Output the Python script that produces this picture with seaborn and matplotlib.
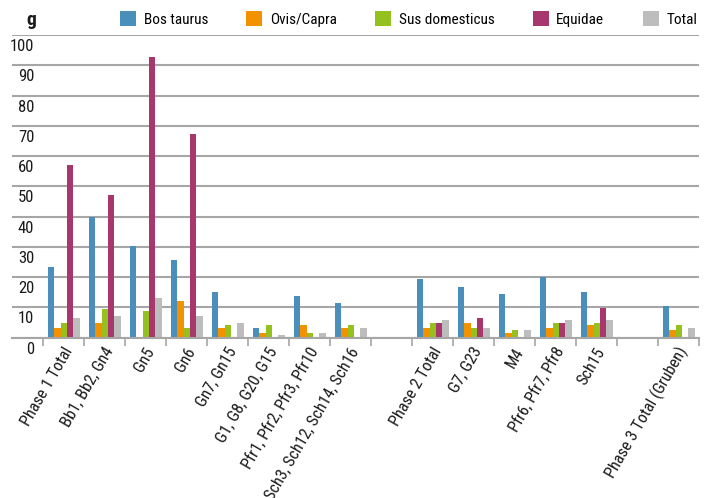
import matplotlib
matplotlib.use("Agg")
import matplotlib.pyplot as plt
import matplotlib.transforms as mtransforms
import pandas as pd
import seaborn as sns

# categories on the x axis (two empty slots separate the phases)
categories = [
    "Phase 1 Total", "Bb1, Bb2, Gn4", "Gn5", "Gn6", "Gn7, Gn15",
    "G1, G8, G20, G15", "Pfr1, Pfr2, Pfr3, Pfr10", "Sch3, Sch12, Sch14, Sch16",
    "gap_1",
    "Phase 2 Total", "G7, G23", "M4", "Pfr6, Pfr7, Pfr8", "Sch15",
    "gap_2",
    "Phase 3 Total (Gruben)",
]
groups = [c for c in categories if not c.startswith("gap_")]
species = ["Bos taurus", "Ovis/Capra", "Sus domesticus", "Equidae", "Total"]

bos = [23.2, 40.0, 30.3, 25.7, 15.2, 3.2, 13.7, 11.3, 19.3, 16.8, 14.4, 20.1, 15.2, 10.4]
ovis = [3.2, 4.8, 0.0, 12.1, 3.2, 1.6, 4.1, 3.2, 3.2, 4.8, 1.6, 3.2, 4.1, 2.5]
sus = [4.8, 9.5, 8.8, 3.2, 4.1, 4.1, 1.6, 4.1, 4.8, 3.2, 2.5, 4.8, 4.8, 4.1]
equidae = [56.9, 47.2, 92.8, 67.2, 0.0, 0.0, 0.0, 0.0, 4.8, 6.5, 0.0, 4.8, 9.7, 0.0]
total = [6.5, 7.2, 12.9, 7.2, 4.8, 0.9, 1.6, 3.2, 5.7, 3.2, 2.5, 5.7, 5.7, 3.2]

colors = ["#4a8fbb", "#f39200", "#95c11f", "#a8376e", "#bdbdbd"]

df = pd.DataFrame({"group": groups, "Bos taurus": bos, "Ovis/Capra": ovis,
                   "Sus domesticus": sus, "Equidae": equidae, "Total": total})
df_long = df.melt(id_vars="group", var_name="species", value_name="g")

plt.rcParams["font.family"] = ["Roboto Condensed", "Roboto", "DejaVu Sans"]

fig = plt.figure(figsize=(7.12, 4.98), dpi=100)
ax = fig.add_axes([12 / 712, 160.5 / 498, 687.3 / 712, 302.5 / 498])

sns.barplot(data=df_long, x="group", y="g", hue="species", order=categories,
            hue_order=species, palette=colors, width=0.77, saturation=1,
            edgecolor="none", errorbar=None, ax=ax)

ax.set_ylim(0, 100)
ax.set_xlim(-0.5 - 31.3 / 41, len(categories) - 0.5)
ax.set_yticks(range(0, 101, 10))
ax.yaxis.grid(True, color="#a6a6a6", linewidth=1.5)
ax.set_axisbelow(True)
for side in ["top", "right", "left"]:
    ax.spines[side].set_visible(False)
ax.spines["bottom"].set_color("#a6a6a6")
ax.spines["bottom"].set_linewidth(1.5)
ax.set_xlabel("")
ax.set_ylabel("")

ax.set_xticks(range(len(categories)))
ax.set_xticklabels(["" if c.startswith("gap_") else c for c in categories],
                   rotation=60, ha="right", va="center", rotation_mode="anchor",
                   fontsize=11.8, color="#1a1a1a")
ax.set_xticks([i - 0.5 for i in range(len(categories) + 1)], minor=True)
ax.tick_params(axis="x", which="major", length=0, pad=8)
ax.tick_params(axis="x", which="minor", length=6, width=1.2, color="#a6a6a6")
ax.tick_params(axis="y", length=0, pad=-16, labelsize=12, labelcolor="#1a1a1a")

fig.text(31 / 712, 1 - 20 / 498, "g", fontsize=14, fontweight="bold",
         ha="center", va="center", color="#1a1a1a")

handles, labels = ax.get_legend_handles_labels()
ax.legend(handles, labels, ncol=5, frameon=False, loc="center left",
          bbox_to_anchor=(120 / 712, 1 - 19 / 498), bbox_transform=fig.transFigure,
          fontsize=11, handlelength=1.05, handleheight=1.05, handletextpad=0.5,
          columnspacing=2.5, borderaxespad=0, borderpad=0)

# y labels sit a little below their grid lines, x labels a touch right
fig.canvas.draw()
shift_y = mtransforms.ScaledTranslation(0, -10 / 100, fig.dpi_scale_trans)
for lab in ax.get_yticklabels():
    lab.set_transform(lab.get_transform() + shift_y)
shift_x = mtransforms.ScaledTranslation(5 / 100, 0, fig.dpi_scale_trans)
for lab in ax.get_xticklabels():
    lab.set_transform(lab.get_transform() + shift_x)

fig.savefig("out.png", dpi=100)
